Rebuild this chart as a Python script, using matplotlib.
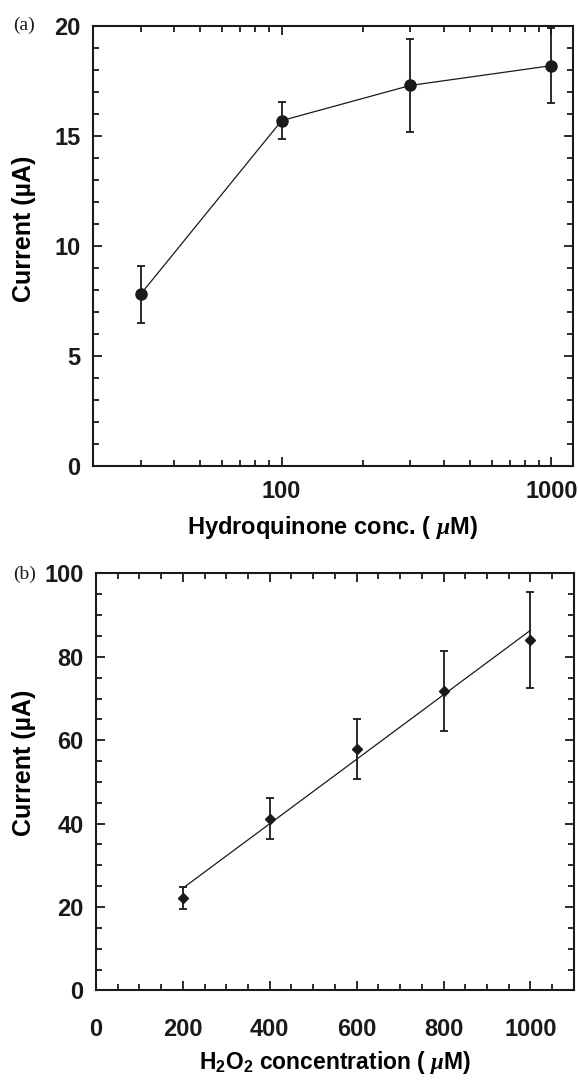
import numpy as np
import matplotlib
matplotlib.use("Agg")
import matplotlib.pyplot as plt
from matplotlib.ticker import MultipleLocator, LogLocator, NullFormatter, FixedLocator, FixedFormatter

# panel (a): hydroquinone
hq_conc = [30, 100, 300, 1000]
hq_current = [7.8, 15.7, 17.3, 18.2]
hq_err = [1.3, 0.85, 2.1, 1.7]

# panel (b): H2O2
h2o2_conc = [200, 400, 600, 800, 1000]
h2o2_current = [22.1, 41.2, 58.0, 71.8, 84.1]
h2o2_err = [2.6, 4.9, 7.2, 9.6, 11.5]

ink = "#1a1a1a"
plt.rcParams["font.family"] = ["Liberation Sans", "DejaVu Sans"]
plt.rcParams["font.weight"] = "bold"
plt.rcParams["mathtext.fontset"] = "custom"
plt.rcParams["mathtext.rm"] = "Liberation Sans:bold"
plt.rcParams["mathtext.it"] = "Liberation Serif:italic"
plt.rcParams["mathtext.bf"] = "Liberation Sans:bold"

fig = plt.figure(figsize=(5.78, 10.86), dpi=100)
ax1 = fig.add_axes([0.161, 0.571, 0.830, 0.405])
ax2 = fig.add_axes([0.166, 0.088, 0.827, 0.384])


def style_axes(ax):
    for s in ax.spines.values():
        s.set_linewidth(1.5)
        s.set_color(ink)
    ax.tick_params(which="both", direction="in", top=True, right=True,
                   colors=ink, labelsize=17, width=1.3)
    ax.tick_params(which="major", length=6.5)
    ax.tick_params(which="minor", length=4)
    ax.tick_params(axis="y", pad=9)


# (a)
ax1.errorbar(hq_conc, hq_current, yerr=hq_err, color=ink, lw=0.9,
             marker="o", ms=8, elinewidth=1.3, capsize=3, capthick=1.3)
ax1.set_xscale("log")
ax1.set_xlim(20, 1200)
ax1.set_ylim(0, 20)
ax1.xaxis.set_major_locator(FixedLocator([100, 1000]))
ax1.xaxis.set_major_formatter(FixedFormatter(["100", "1000"]))
ax1.xaxis.set_minor_locator(LogLocator(base=10, subs=np.arange(2, 10)))
ax1.xaxis.set_minor_formatter(NullFormatter())
ax1.yaxis.set_major_locator(MultipleLocator(5))
ax1.yaxis.set_minor_locator(MultipleLocator(1))
style_axes(ax1)
ax1.tick_params(axis="x", which="major", pad=10)
ax1.set_ylabel("Current (\u00b5A)", fontsize=18, fontweight="bold", va="center")
ax1.yaxis.set_label_coords(-0.144, 0.54)
ax1.set_xlabel(r"Hydroquinone conc. ( $\mathit{\mu}$M)", fontsize=17,
               fontweight="bold", va="center")
ax1.xaxis.set_label_coords(0.5, -0.141)
fig.text(0.022, 0.977, "(a)", family="Liberation Serif", fontweight="normal",
         fontsize=14, va="center", ha="left", color=ink)

# (b)
ax2.errorbar(h2o2_conc, h2o2_current, yerr=h2o2_err, color=ink, ls="none",
             marker="D", ms=5, elinewidth=1.3, capsize=3, capthick=1.3)
fit = np.polyfit(h2o2_conc, h2o2_current, 1)
xfit = np.array([min(h2o2_conc), max(h2o2_conc)])
ax2.plot(xfit, np.polyval(fit, xfit), color=ink, lw=0.9)
ax2.set_xlim(0, 1100)
ax2.set_ylim(0, 100)
ax2.xaxis.set_major_locator(FixedLocator([0, 200, 400, 600, 800, 1000]))
ax2.xaxis.set_minor_locator(MultipleLocator(50))
ax2.yaxis.set_major_locator(MultipleLocator(20))
ax2.yaxis.set_minor_locator(MultipleLocator(5))
style_axes(ax2)
ax2.tick_params(axis="x", which="major", pad=20)
ax2.set_ylabel("Current (\u00b5A)", fontsize=18, fontweight="bold", va="center")
ax2.yaxis.set_label_coords(-0.151, 0.547)
ax2.set_xlabel(r"$\mathrm{H_2O_2}$ concentration ( $\mathit{\mu}$M)",
               fontsize=16.5, fontweight="bold", va="center")
ax2.xaxis.set_label_coords(0.5, -0.173)
fig.text(0.022, 0.471, "(b)", family="Liberation Serif", fontweight="normal",
         fontsize=14, va="center", ha="left", color=ink)

fig.savefig("out.png", dpi=100)
